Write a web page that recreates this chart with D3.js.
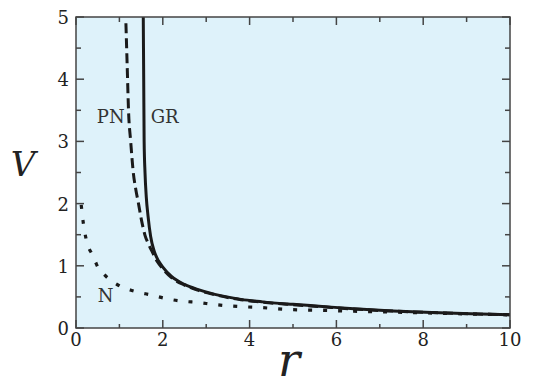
<!DOCTYPE html>
<html><head><meta charset="utf-8">
<script src="https://cdn.jsdelivr.net/npm/d3@7"></script>
<style>body{margin:0;background:#fff}svg{display:block}text{font-family:"DejaVu Serif","Liberation Serif",serif}</style>
</head><body>
<script>
// Data
const rGR = [1.55, 1.56, 1.57, 1.59, 1.62, 1.66, 1.72, 1.80, 1.90, 2.0, 2.2, 2.5, 2.8, 3.2, 3.8, 4.3, 5.0, 5.6, 6.4, 7.3, 8.2, 9.1, 10];
const vGR = [5.0, 4.0, 3.0, 2.5, 2.1, 1.8, 1.47, 1.24, 1.08, 0.98, 0.83, 0.70, 0.62, 0.54, 0.46, 0.42, 0.38, 0.35, 0.31, 0.275, 0.25, 0.23, 0.215];
const rPN = [1.15, 1.18, 1.21, 1.26, 1.32, 1.38, 1.44, 1.51, 1.59, 1.67, 1.76, 1.88, 2.0, 2.2, 2.5, 2.8, 3.2, 3.8, 4.3, 5.0, 5.6, 6.4, 7.3, 8.2, 9.1, 10];
const vPN = [4.9, 4.2, 3.5, 3.0, 2.5, 2.22, 2.0, 1.73, 1.49, 1.35, 1.22, 1.06, 0.95, 0.81, 0.69, 0.61, 0.535, 0.455, 0.415, 0.375, 0.345, 0.305, 0.272, 0.248, 0.228, 0.213];
const rN = [0.12, 0.17, 0.23, 0.30, 0.36, 0.45, 0.51, 0.62, 0.74, 0.9, 1.05, 1.25, 1.40, 1.74, 2.09, 2.47, 2.82, 3.16, 3.53, 3.89, 4.24, 4.62, 5.0, 5.6, 6.4, 7.3, 8.2, 9.1, 10];
const vN = [1.98, 1.68, 1.44, 1.28, 1.20, 1.06, 0.97, 0.88, 0.80, 0.72, 0.66, 0.61, 0.58, 0.53, 0.47, 0.43, 0.41, 0.38, 0.355, 0.34, 0.33, 0.31, 0.295, 0.285, 0.27, 0.255, 0.24, 0.225, 0.21];
const xTicks = [0, 2, 4, 6, 8, 10];
const yTicks = [0, 1, 2, 3, 4, 5];
const xMinor = [1, 3, 5, 7, 9];
const yMinor = [0.5, 1.5, 2.5, 3.5, 4.5];
const labels = [{t: "PN", r: 0.48, v: 3.3}, {t: "GR", r: 1.72, v: 3.3}, {t: "N", r: 0.5, v: 0.42}];

const W = 534, H = 388;
const m = {l: 76, r: 24, t: 17, b: 60};
const svg = d3.select("body").append("svg").attr("width", W).attr("height", H);
const x = d3.scaleLinear().domain([0, 10]).range([m.l, W - m.r]);
const y = d3.scaleLinear().domain([0, 5]).range([H - m.b, m.t]);

svg.append("rect").attr("x", x(0)).attr("y", y(5)).attr("width", x(10) - x(0)).attr("height", y(0) - y(5))
  .attr("fill", "#def2fa");

svg.append("clipPath").attr("id", "c").append("rect")
  .attr("x", x(0)).attr("y", y(5)).attr("width", x(10) - x(0)).attr("height", y(0) - y(5));

// ticks (inward, all four sides)
const tc = "#444";
const g = svg.append("g").attr("stroke", tc).attr("stroke-width", 1.5);
xTicks.forEach(d => {
  g.append("line").attr("x1", x(d)).attr("x2", x(d)).attr("y1", y(0)).attr("y2", y(0) - 8);
  g.append("line").attr("x1", x(d)).attr("x2", x(d)).attr("y1", y(5)).attr("y2", y(5) + 8);
});
xMinor.forEach(d => {
  g.append("line").attr("x1", x(d)).attr("x2", x(d)).attr("y1", y(0)).attr("y2", y(0) - 4);
  g.append("line").attr("x1", x(d)).attr("x2", x(d)).attr("y1", y(5)).attr("y2", y(5) + 5);
});
yTicks.forEach(d => {
  g.append("line").attr("x1", x(0)).attr("x2", x(0) + 8).attr("y1", y(d)).attr("y2", y(d));
  g.append("line").attr("x1", x(10)).attr("x2", x(10) - 8).attr("y1", y(d)).attr("y2", y(d));
});
yMinor.forEach(d => {
  g.append("line").attr("x1", x(0)).attr("x2", x(0) + 5).attr("y1", y(d)).attr("y2", y(d));
  g.append("line").attr("x1", x(10)).attr("x2", x(10) - 5).attr("y1", y(d)).attr("y2", y(d));
});

const line = d3.line().x(d => x(d[0])).y(d => y(d[1])).curve(d3.curveMonotoneX);
const lg = svg.append("g").attr("clip-path", "url(#c)").attr("fill", "none").attr("stroke", "#1a1a1a");
lg.append("path").attr("d", line(d3.zip(rN, vN))).attr("stroke-width", 3.2).attr("stroke-dasharray", "4,11");
lg.append("path").attr("d", line(d3.zip(rPN, vPN))).attr("stroke-width", 3).attr("stroke-dasharray", "10,5");
lg.append("path").attr("d", line(d3.zip(rGR, vGR))).attr("stroke-width", 3);

// frame
svg.append("rect").attr("x", x(0)).attr("y", y(5)).attr("width", x(10) - x(0)).attr("height", y(0) - y(5))
  .attr("fill", "none").attr("stroke", "#444").attr("stroke-width", 1.5);

// tick labels
svg.append("g").selectAll("text").data(xTicks).join("text")
  .attr("x", d => x(d)).attr("y", y(0) + 18).attr("text-anchor", "middle")
  .attr("font-size", 18).attr("fill", "#222").text(d => d);
svg.append("g").selectAll("text").data(yTicks).join("text")
  .attr("x", x(0) - 7).attr("y", d => y(d) + 7).attr("text-anchor", "end")
  .attr("font-size", 18).attr("fill", "#222").text(d => d);

// curve labels
svg.append("g").selectAll("text").data(labels).join("text")
  .attr("x", d => x(d.r)).attr("y", d => y(d.v)).attr("font-size", 18)
  .attr("fill", "#333").text(d => d.t);

// axis titles
svg.append("text").attr("x", 23).attr("y", 176).attr("text-anchor", "middle")
  .attr("font-style", "italic").attr("font-size", 34).attr("fill", "#222").text("V");
svg.append("text").attr("x", 289).attr("y", 376).attr("text-anchor", "middle")
  .attr("font-style", "italic").attr("font-size", 46).attr("fill", "#222").text("r");
</script>
</body></html>
